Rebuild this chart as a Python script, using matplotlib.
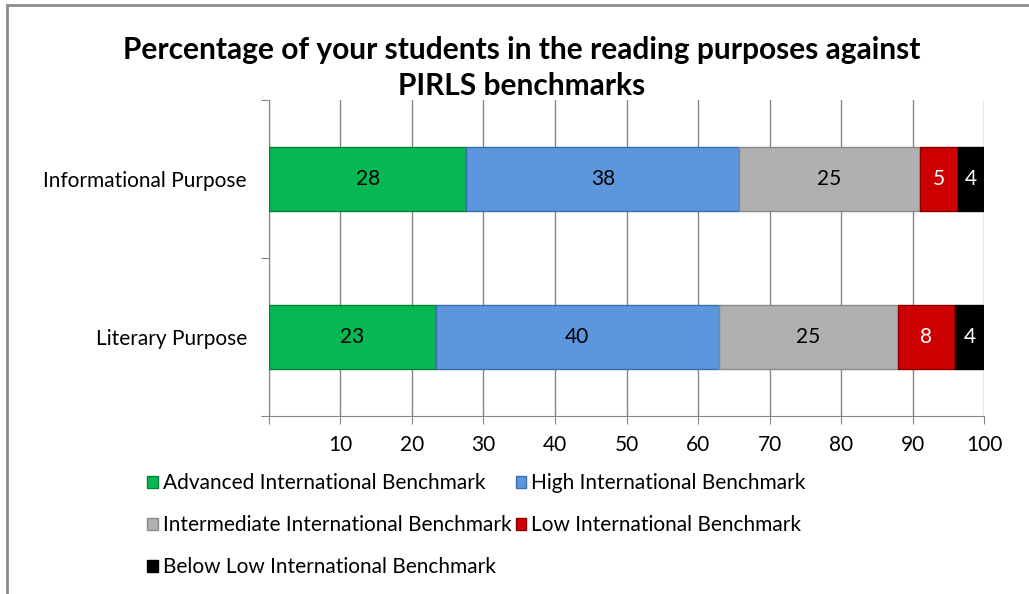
import matplotlib.pyplot as plt
from matplotlib.patches import Patch, Rectangle

plt.rcParams['font.family'] = ['Lato', 'DejaVu Sans']

categories = ['Literary Purpose', 'Informational Purpose']
series = ['Advanced International Benchmark', 'High International Benchmark',
          'Intermediate International Benchmark', 'Low International Benchmark',
          'Below Low International Benchmark']
# values per series: [Literary, Informational]
advanced = [23.3, 27.6]
high = [39.6, 38.2]
intermediate = [25.0, 25.2]
low = [8.1, 5.3]
below_low = [4.0, 3.7]

colors = ['#06B853', '#5C97DD', '#B0B0B0', '#CC0000', '#000000']
edge_colors = ['#03823A', '#3B6FAE', '#8A8A8A', '#8E0000', '#000000']
text_colors = ['black', 'black', 'black', 'white', 'white']

fig = plt.figure(figsize=(10.29, 5.94), dpi=100)
ax = fig.add_axes([0.2614, 0.2997, 0.6949, 0.5319])

# chart border
fig.patches.append(Rectangle((7 / 1029, -0.05), 1.2, 1 - 5 / 594 + 0.05,
                             transform=fig.transFigure, fill=False,
                             edgecolor='#8C8C8C', linewidth=2))

left = [0, 0]
handles = []
for name, vals, c, ec, tc in zip(series, [advanced, high, intermediate, low, below_low],
                                 colors, edge_colors, text_colors):
    b = ax.barh(range(len(categories)), vals, left=left, height=0.4,
                color=c, edgecolor=ec, linewidth=1, zorder=3)
    ax.bar_label(b, labels=['%.0f' % v for v in vals], label_type='center',
                 color=tc, fontsize=15)
    left = [l + v for l, v in zip(left, vals)]
    handles.append(Patch(facecolor=c, edgecolor=ec, label=name))

ax.set_xlim(0, 100)
ax.set_ylim(-0.5, 1.5)
ax.set_xticks(range(0, 101, 10))
ax.set_xticklabels([''] + [str(x) for x in range(10, 101, 10)], fontsize=15)
ax.set_yticks([-0.5, 0.5, 1.5])
ax.set_yticklabels([])
ax.set_yticks([0, 1], minor=True)
ax.set_yticklabels(categories, minor=True, fontsize=15)
ax.tick_params(axis='y', which='minor', length=0, pad=16)
ax.tick_params(axis='both', which='major', length=6, color='#868686')
ax.tick_params(axis='x', pad=8)
ax.grid(axis='x', color='#868686', linewidth=1, zorder=0)
for s in ['top', 'right']:
    ax.spines[s].set_visible(False)
for s in ['left', 'bottom']:
    ax.spines[s].set_color('#868686')

fig.text(0.507, 0.886, 'Percentage of your students in the reading purposes against\nPIRLS benchmarks',
         ha='center', va='center', fontsize=21.5, fontweight='bold', linespacing=1.35)

order = [0, 2, 4, 1, 3]
fig.legend([handles[i] for i in order], [series[i] for i in order],
           loc='upper left', bbox_to_anchor=(0.135, 0.217), ncol=2, frameon=False,
           fontsize=15, handlelength=0.5, handleheight=0.5, handletextpad=0.25,
           columnspacing=0.2, labelspacing=1.05, borderaxespad=0)

fig.savefig('out.png', dpi=100)
